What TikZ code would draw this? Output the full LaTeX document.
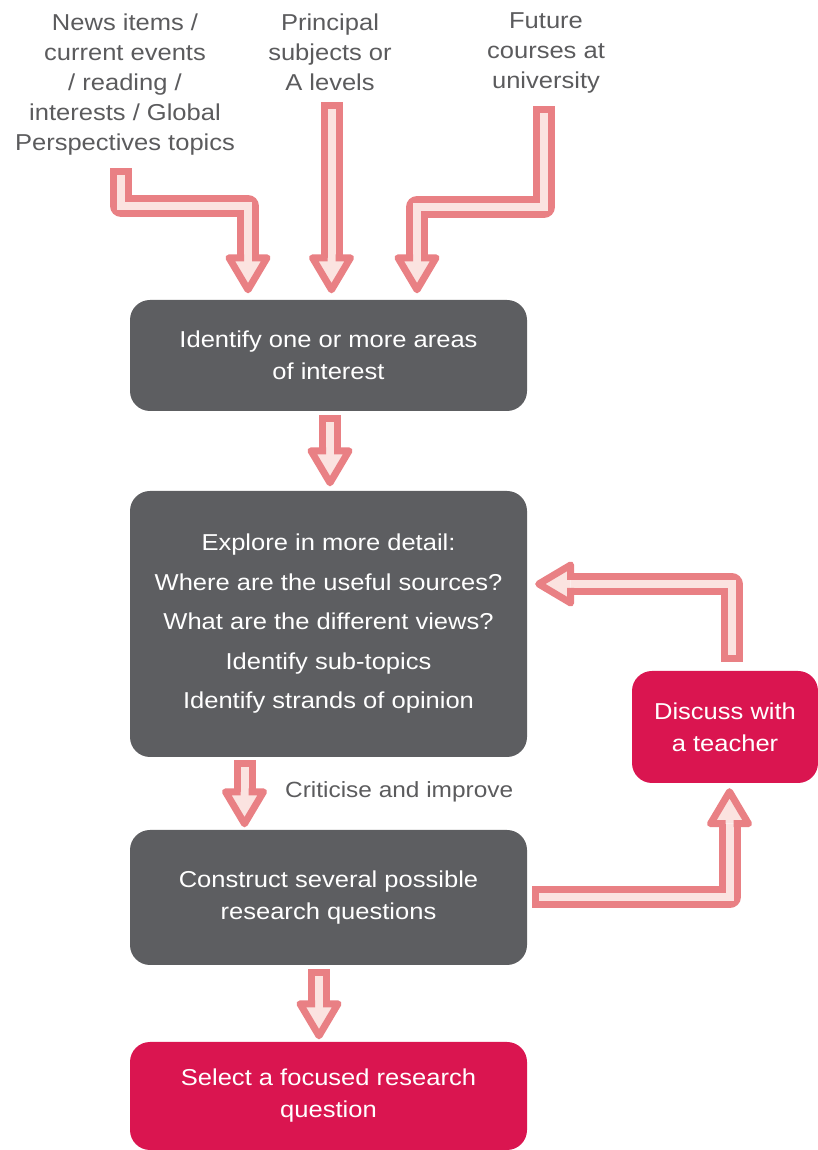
\documentclass[tikz,border=0pt]{standalone}
\usepackage{fontspec}
\setmainfont[FakeStretch=1.11]{Liberation Sans}
\usepackage{tikz}
\usetikzlibrary{calc,positioning,arrows.meta}

\definecolor{boxgray}{HTML}{5D5E61}
\definecolor{boxred}{HTML}{DA1550}
\definecolor{arrowedge}{HTML}{E98084}
\definecolor{arrowfill}{HTML}{FBE3E0}
\definecolor{labelgray}{HTML}{5B5B5D}

\newcommand{\boxfont}{\fontsize{23}{32}\selectfont}
\newcommand{\srcfont}{\fontsize{23}{30}\selectfont}

% hollow block arrow: #1 path ending at the tip, #2 rotation of the head
\newcommand{\fatarrow}[2]{%
    \draw[fatout] #1;
    \draw[fatin] #1 pic[rotate=#2] {fathead};
}

\tikzset{
    pics/fathead/.style={code={
        \fill[arrowfill] (-19,32) -- (0,0) -- (19,32) -- cycle;
        \draw[draw=arrowedge, line width=7pt, line join=round, line cap=butt,
              shorten <=0pt, shorten >=0pt]
            (-4,32) -- (-19,32) -- (0,0) -- (19,32) -- (4,32);
    }},
    fatout/.style={draw=arrowedge, line width=22pt, line join=round,
                   line cap=rect, shorten <=4pt, shorten >=43pt},
    fatin/.style={draw=arrowfill, line width=8pt, line join=miter,
                  line cap=butt, shorten >=32pt}
}

\begin{document}
\begin{tikzpicture}[
    x=1pt, y=1pt,
    box/.style={rounded corners=20pt, minimum width=397pt, align=center,
                text=white, font=\boxfont, inner sep=0pt, fill=boxgray},
    redbox/.style={box, fill=boxred},
    source/.style={align=center, text=labelgray, font=\srcfont, inner sep=0pt}
]
    \useasboundingbox (0,0) rectangle (818,1150);

    % Where topics come from
    \node[source] (src1) at (125,1065.5) {News items /\\current events\\/ reading /\\interests / Global\\Perspectives topics};
    \node[source] (src2) at (330,1097.5) {Principal\\subjects or\\A levels};
    \node[source] (src3) at (546,1097.5) {Future\\courses at\\university};

    % Main steps
    \node[box, minimum height=111pt] (ident) at (328.5,794.5) {Identify one or more areas\\of interest};
    \node[box, minimum height=266pt] (explore) at (328.5,526) {Explore in more detail:\\[7.5pt]
        Where are the useful sources?\\[7.5pt]What are the different views?\\[7.5pt]
        Identify sub-topics\\[7.5pt]Identify strands of opinion};
    \node[box, minimum height=135pt] (construct) at (328.5,252.5) {Construct several possible\\research questions};
    \node[redbox, minimum height=108pt] (select) at (328.5,54) {Select a focused research\\question};
    \node[redbox, minimum width=186pt, minimum height=112pt] (discuss) at (725,423) {Discuss with\\a teacher};

    \node[anchor=west, text=labelgray, font=\fontsize{22}{30}\selectfont, inner sep=0pt] (crit) at (285,358) {Criticise and improve};

    % Sources into the first box
    \coordinate (s1) at (121,975);
    \coordinate (s2) at (331.5,1041);
    \coordinate (s3) at (544,1037);
    \fatarrow{(s1) |- (248,944) -- ([xshift=-80.5,yshift=10]ident.north)}{0}
    \fatarrow{(s2) -- ([xshift=3,yshift=10]ident.north)}{0}
    \fatarrow{(s3) |- (417,943) -- ([xshift=88.5,yshift=10]ident.north)}{0}

    % Down the chain
    \fatarrow{([xshift=1.5,yshift=-11]ident.south) -- ([xshift=1.5,yshift=8]explore.north)}{0}
    \fatarrow{([xshift=-84,yshift=-10]explore.south) -- ([xshift=-84,yshift=6]construct.north)}{0}
    \fatarrow{([xshift=-9.5,yshift=-11]construct.south) -- ([xshift=-9.5,yshift=6]select.north)}{0}

    % Loop through the teacher
    \fatarrow{([xshift=12]construct.east) -| ([xshift=4.5,yshift=-8.5]discuss.south)}{180}
    \fatarrow{([xshift=6.5,yshift=16]discuss.north) |- ([xshift=11.5,yshift=40]explore.east)}{-90}
\end{tikzpicture}
\end{document}
